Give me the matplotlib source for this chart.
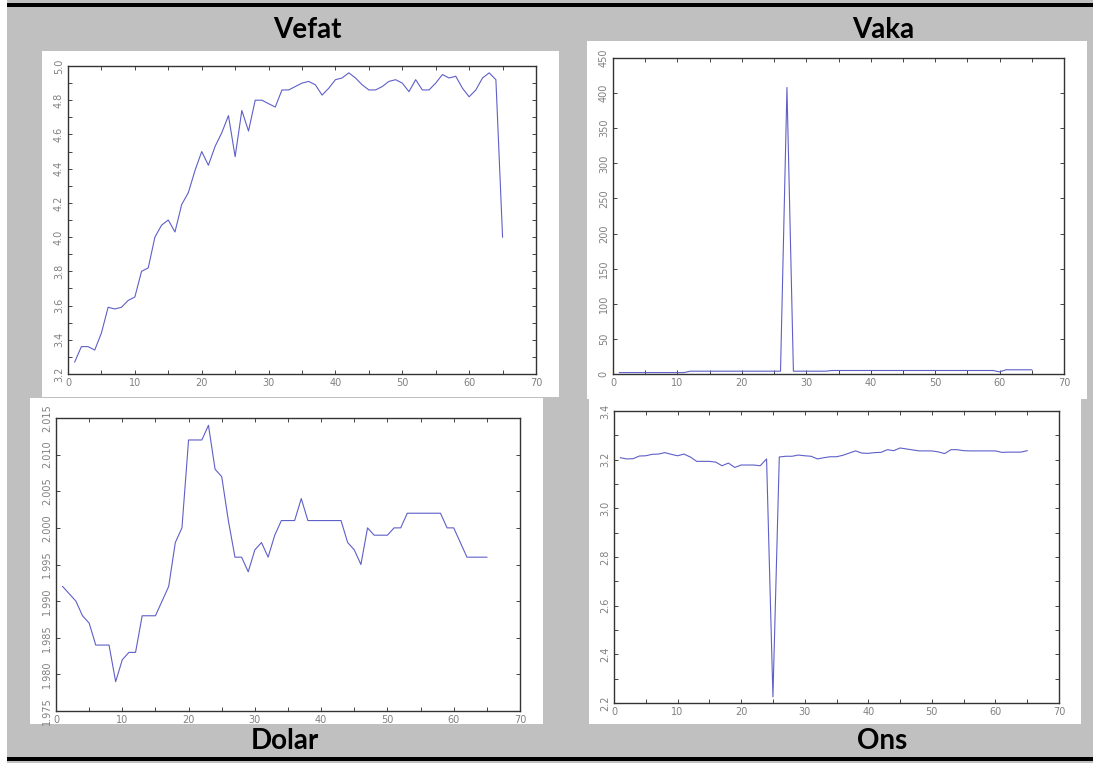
import matplotlib
matplotlib.use('Agg')
import matplotlib.pyplot as plt
from matplotlib.patches import Rectangle
from matplotlib.ticker import MultipleLocator, FormatStrFormatter

# Day index shared by all four series.
days = list(range(1, 66))

vefat = [3.27, 3.36, 3.36, 3.34, 3.44, 3.59, 3.58, 3.59, 3.63, 3.65,
         3.80, 3.82, 4.00, 4.07, 4.10, 4.03, 4.19, 4.26, 4.39, 4.50,
         4.42, 4.53, 4.61, 4.71, 4.47, 4.74, 4.62, 4.80, 4.80, 4.78,
         4.76, 4.86, 4.86, 4.88, 4.90, 4.91, 4.89, 4.83, 4.87, 4.92,
         4.93, 4.96, 4.93, 4.89, 4.86, 4.86, 4.88, 4.91, 4.92, 4.90,
         4.85, 4.92, 4.86, 4.86, 4.90, 4.95, 4.93, 4.94, 4.87, 4.82,
         4.86, 4.93, 4.96, 4.92, 4.00]

vaka = [2, 2, 2, 2, 2, 2, 2, 2, 2, 2,
        2, 4, 4, 4, 4, 4, 4, 4, 4, 4,
        4, 4, 4, 4, 4, 4, 408, 4, 4, 4,
        4, 4, 4, 5, 5, 5, 5, 5, 5, 5,
        5, 5, 5, 5, 5, 5, 5, 5, 5, 5,
        5, 5, 5, 5, 5, 5, 5, 5, 5, 3,
        6, 6, 6, 6, 6]

dolar = [1.992, 1.991, 1.990, 1.988, 1.987, 1.984, 1.984, 1.984, 1.979, 1.982,
         1.983, 1.983, 1.988, 1.988, 1.988, 1.990, 1.992, 1.998, 2.000, 2.012,
         2.012, 2.012, 2.014, 2.008, 2.007, 2.001, 1.996, 1.996, 1.994, 1.997,
         1.998, 1.996, 1.999, 2.001, 2.001, 2.001, 2.004, 2.001, 2.001, 2.001,
         2.001, 2.001, 2.001, 1.998, 1.997, 1.995, 2.000, 1.999, 1.999, 1.999,
         2.000, 2.000, 2.002, 2.002, 2.002, 2.002, 2.002, 2.002, 2.000, 2.000,
         1.998, 1.996, 1.996, 1.996, 1.996]

ons = [3.208, 3.203, 3.204, 3.215, 3.216, 3.222, 3.223, 3.229, 3.222, 3.216,
       3.223, 3.211, 3.193, 3.193, 3.193, 3.190, 3.175, 3.186, 3.168, 3.178,
       3.178, 3.178, 3.175, 3.203, 2.225, 3.211, 3.214, 3.214, 3.219, 3.216,
       3.214, 3.203, 3.208, 3.212, 3.212, 3.218, 3.227, 3.236, 3.227, 3.226,
       3.229, 3.230, 3.241, 3.237, 3.248, 3.244, 3.240, 3.236, 3.236, 3.236,
       3.232, 3.225, 3.241, 3.241, 3.237, 3.236, 3.236, 3.236, 3.236, 3.236,
       3.230, 3.231, 3.231, 3.231, 3.237]

W, H = 1093, 763

def frac(x0, y0, x1, y1):
    # Pixel box (top-left origin) -> figure fraction [left, bottom, width, height].
    return [x0 / W, 1 - y1 / H, (x1 - x0) / W, (y1 - y0) / H]

figure = plt.figure(figsize=(W / 100, H / 100), dpi=100, facecolor='white')

# Grey table background with black rules top and bottom.
for box, colour in [((7, 0, W, H), '#c0c0c0'), ((7, 3, W, 7), 'black'), ((7, 757, W, 761), 'black')]:
    l, b, w, h = frac(*box)
    figure.add_artist(Rectangle((l, b), w, h, transform=figure.transFigure, facecolor=colour, edgecolor='none', zorder=-3))

# White panels behind each chart.
for box in [(42, 51, 559, 397), (587, 41, 1087, 399), (30, 398, 543, 724), (589, 399, 1081, 724)]:
    l, b, w, h = frac(*box)
    figure.add_artist(Rectangle((l, b), w, h, transform=figure.transFigure, facecolor='white', edgecolor='none', zorder=-2))

# Header cells.
header_font = dict(family=['Lato', 'DejaVu Sans'], weight='bold', size=20, ha='center', va='center')
figure.text(307 / W, 1 - 30 / H, 'Vefat', **header_font)
figure.text(883 / W, 1 - 30 / H, 'Vaka', **header_font)
figure.text(285 / W, 1 - 741 / H, 'Dolar', **header_font)
figure.text(882 / W, 1 - 741 / H, 'Ons', **header_font)

# (values, pixel box, y limits, major step, minor step, label format)
panels = [
    (vefat, (68, 66, 536, 374), (3.2, 5.0), 0.2, 0.1, '%.1f'),
    (vaka, (613, 58, 1064, 374), (0, 450), 50, 50, '%d'),
    (dolar, (56, 418, 520, 711), (1.975, 2.015), 0.005, 0.005, '%.3f'),
    (ons, (614, 411, 1059, 703), (2.2, 3.4), 0.2, 0.1, '%.1f'),
]

for values, box, ylim, major, minor, fmt in panels:
    axes = figure.add_axes(frac(*box))
    axes.set_zorder(1)
    axes.set_facecolor('white')
    axes.plot(days, values, color='#5f5fc8', linewidth=0.8)

    axes.set_xlim(0, 70)
    axes.set_ylim(*ylim)
    axes.xaxis.set_major_locator(MultipleLocator(10))
    axes.xaxis.set_minor_locator(MultipleLocator(5))
    axes.yaxis.set_major_locator(MultipleLocator(major))
    axes.yaxis.set_minor_locator(MultipleLocator(minor))
    axes.yaxis.set_major_formatter(FormatStrFormatter(fmt))

    # Ticks point inward on every side, labels are small and grey.
    axes.tick_params(which='both', direction='in', top=True, right=True, length=3, width=0.7, color='#444444')
    axes.tick_params(which='major', labelsize=7, labelcolor='#808080', pad=3)
    for label in axes.get_yticklabels():
        label.set_rotation(90)
        label.set_va('center')

    for spine in axes.spines.values():
        spine.set_color('#333333')
        spine.set_linewidth(1)

figure.savefig('out.png', dpi=100, facecolor=figure.get_facecolor())
